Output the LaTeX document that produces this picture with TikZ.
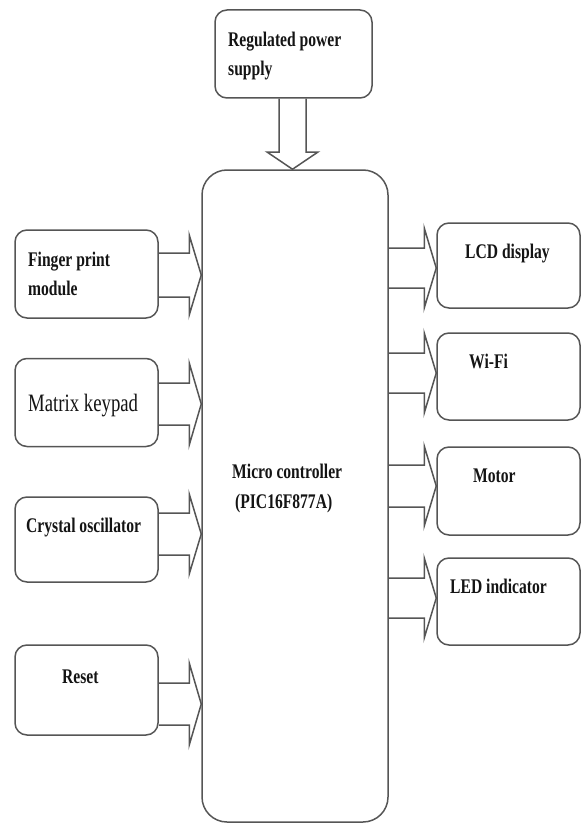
\documentclass[tikz,border=0pt]{standalone}
\usepackage{fontspec}
\setmainfont{Liberation Serif}[FakeStretch=0.75]
\usetikzlibrary{calc}
\definecolor{edge}{HTML}{555555}
\definecolor{ink}{HTML}{141414}
\tikzset{
  blk/.style={draw=edge, line width=1.5pt, rounded corners=12pt, inner sep=0pt, minimum width=143pt, minimum height=88pt},
  mcubox/.style={draw=edge, line width=1.5pt, rounded corners=25pt, inner sep=0pt, minimum width=186pt, minimum height=652pt},
  barrow/.style={draw=edge, line width=1.5pt, line join=miter},
  lbl/.style={text=ink, font=\fontsize{20.8}{29}\selectfont\bfseries, inner sep=0pt, align=left},
  lblr/.style={text=ink, font=\fontsize{25}{29}\selectfont, inner sep=0pt}
}
\newcommand{\harrow}[5]{%
  \draw[barrow] ($(#1 |- 0,#3)+(0,-#4)$) -- ($(#2 |- 0,#3)+(-12,-#4)$) -- ($(#2 |- 0,#3)+(-12,-#5)$) -- (#2 |- 0,#3) -- ($(#2 |- 0,#3)+(-12,#5)$) -- ($(#2 |- 0,#3)+(-12,#4)$) -- ($(#1 |- 0,#3)+(0,#4)$);}
\begin{document}
\begin{tikzpicture}[x=1pt,y=-1pt]
\useasboundingbox (0,0) rectangle (582,824);
% boxes
\node[blk, minimum width=157pt] (psu) at (293.5,54) {};
\node[mcubox] (mcu) at (295,496) {};
\node[blk] (fp) at (86.5,274) {};
\node[blk] (mk) at (86.5,402.5) {};
\node[blk, minimum height=85pt] (co) at (86.5,539.5) {};
\node[blk, minimum height=90pt] (rs) at (86.5,690) {};
\node[blk, minimum height=85pt] (lcd) at (508.5,265.5) {};
\node[blk, minimum height=87pt] (wifi) at (508.5,376.5) {};
\node[blk] (motor) at (508.5,491) {};
\node[blk, minimum height=87pt] (led) at (508.5,601.5) {};
% labels (multi-line nodes: base = last line's baseline)
\node[lbl, anchor=base west] (tpsu) at (228,76) {Regulated power\\supply};
\node[lbl, anchor=base west] (tfp) at (28,295) {Finger print\\module};
\node[lblr, anchor=base west] (tmk) at (28,411) {Matrix keypad};
\node[lbl, anchor=base west] (tco) at (26,532) {Crystal oscillator};
\node[lbl, anchor=base west] (trs) at (62,683) {Reset};
\node[lbl, anchor=base west] (tlcd) at (465,258) {LCD display};
\node[lbl, anchor=base west] (twifi) at (469,368) {Wi-Fi};
\node[lbl, anchor=base west] (tmotor) at (473,482) {Motor};
\node[lbl, anchor=base west] (tled) at (450,593) {LED indicator};
\node[lbl, anchor=base west] (tmcu) at (232,478) {Micro controller};
\node[lbl, anchor=base west] (tpic) at (235,508) {(PIC16F877A)};
% top block arrow
\draw[barrow] ($(279,0 |- psu.south)$) -- (279,152) -- (267,152) -- (292.5,0 |- mcu.north) -- (318,152) -- (306,152) -- ($(306,0 |- psu.south)$);
% left block arrows
\harrow{fp.east}{mcu.west}{275}{22}{40}
\harrow{mk.east}{mcu.west}{404}{21}{41}
\harrow{co.east}{mcu.west}{534}{21}{40}
\harrow{rs.east}{mcu.west}{704}{21}{41}
% right block arrows
\harrow{mcu.east}{lcd.west}{268}{20}{40}
\harrow{mcu.east}{wifi.west}{373}{20}{40}
\harrow{mcu.east}{motor.west}{486}{21}{40}
\harrow{mcu.east}{led.west}{598}{20}{40}
\end{tikzpicture}
\end{document}
